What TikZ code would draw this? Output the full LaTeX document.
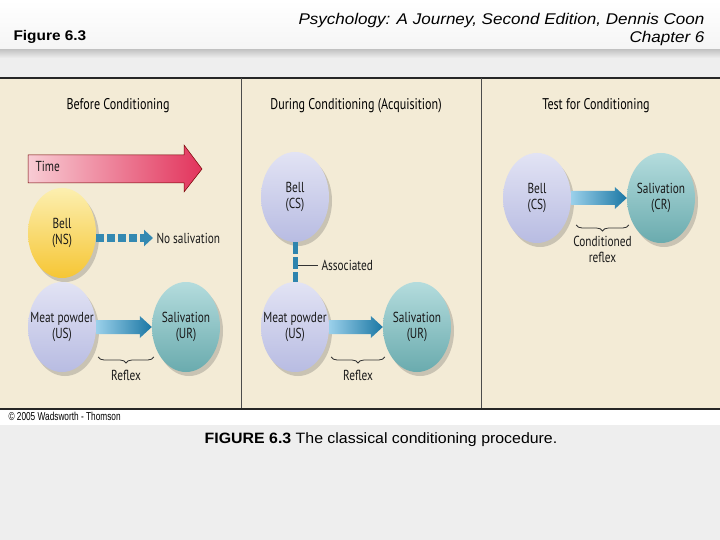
\documentclass[tikz,border=0pt]{standalone}
\usepackage{fontspec}
\setmainfont{Liberation Sans}
\newfontfamily\figfont[FakeStretch=0.78]{PT Sans}
\newfontfamily\tinyfont[FakeStretch=0.72]{Liberation Sans}
\newfontfamily\headfont[FakeStretch=1.1]{Liberation Sans}
\newfontfamily\capfont[FakeStretch=1.06]{Liberation Sans}
\usetikzlibrary{positioning,shapes.geometric,shadows,arrows.meta,decorations.pathreplacing,calc}

\definecolor{panelbg}{HTML}{F3EBD6}
\definecolor{pagebg}{HTML}{EEEEEE}
\definecolor{yellowtop}{HTML}{FCEFB0}
\definecolor{yellowbot}{HTML}{F6C634}
\definecolor{lavtop}{HTML}{E2E3F4}
\definecolor{lavbot}{HTML}{B8BCE2}
\definecolor{tealtop}{HTML}{B4DCDD}
\definecolor{tealbot}{HTML}{6AABAE}
\definecolor{arrowlight}{HTML}{9AD0EA}
\definecolor{arrowdark}{HTML}{1B77A4}
\definecolor{timelight}{HTML}{F8CCD4}
\definecolor{timedark}{HTML}{E2345C}

\tikzset{
  ball/.style={ellipse, minimum width=68pt, minimum height=90pt, inner sep=0pt,
    drop shadow={shadow xshift=3pt, shadow yshift=-4pt, opacity=0.25, fill=black!70}},
  yellowball/.style={ball, top color=yellowtop, bottom color=yellowbot},
  lavball/.style={ball, top color=lavtop, bottom color=lavbot},
  tealball/.style={ball, top color=tealtop, bottom color=tealbot},
  lbl/.style={font=\figfont\fontsize{14.5}{16}\selectfont, align=center, text=black!90},
  paneltitle/.style={font=\figfont\fontsize{15.5}{17}\selectfont, text=black},
  reflexbrace/.style={decorate, decoration={brace, mirror, amplitude=6pt}, black!80, line width=0.8pt}
}

% thick shaded arrow between two balls, at the height of the first one
\newcommand{\flowarrow}[2]{%
  \shade[left color=arrowlight, right color=arrowdark]
    let \p1=(#1.east), \p2=(#2.west) in
    (\x1,\y1+7pt) -- (\x2-12pt,\y1+7pt) -- (\x2-12pt,\y1+11pt) -- (\x2,\y1)
    -- (\x2-12pt,\y1-11pt) -- (\x2-12pt,\y1-7pt) -- (\x1,\y1-7pt) -- cycle;}

\begin{document}
\begin{tikzpicture}[x=1pt, y=-1pt]
  \useasboundingbox (0,0) rectangle (720,540);
  \fill[pagebg] (0,0) rectangle (720,540);
  \shade[top color=white, bottom color=gray!8] (0,0) rectangle (720,50);
  \shade[top color=gray!45, bottom color=pagebg] (0,50) rectangle (720,58);

  % header
  \node[anchor=west, font=\headfont\bfseries\fontsize{14}{16}\selectfont] (figno) at (10,37) {Figure 6.3};
  \node[anchor=east, font=\headfont\itshape\fontsize{15.5}{17}\selectfont] (book) at (708,20)
    {Psychology: A Journey, Second Edition, Dennis Coon};
  \node[anchor=east, font=\headfont\itshape\fontsize{15.5}{17}\selectfont] (chap) at (708,38) {Chapter 6};

  % panels
  \fill[panelbg] (0,78) rectangle (720,408);
  \draw[black!85, line width=1.2pt] (0,78) -- (720,78);
  \draw[black!85, line width=2pt] (0,408.5) -- (720,408.5);
  \draw[black!70, line width=0.8pt] (241,78) -- (241,408);
  \draw[black!70, line width=0.8pt] (481,78) -- (481,408);
  \fill[white] (0,410) rectangle (720,425);

  \node[paneltitle] (titleA) at (118,106) {Before Conditioning};
  \node[paneltitle] (titleB) at (356,106) {During Conditioning (Acquisition)};
  \node[paneltitle] (titleC) at (596,106) {Test for Conditioning};

  % before conditioning
  \shade[left color=timelight, right color=timedark, draw=red!45!black, line width=0.5pt]
    (28,155) -- (184,155) -- (184,145) -- (202,169) -- (184,192) -- (184,183) -- (28,183) -- cycle;
  \node[lbl, anchor=west] (time) at (32,166) {Time};

  \node[yellowball, label={[lbl]center:Bell\\(NS)}] (bellNS) at (62,233) {};
  \node[lavball, label={[lbl]center:Meat powder\\(US)}] (meatA) at (62,327) {};
  \node[tealball, label={[lbl]center:Salivation\\(UR)}] (salivA) at (186,327) {};
  \node[lbl, anchor=west] (nosaliv) at (153,238) {No salivation};

  \draw[arrowdark!80!arrowlight, line width=8pt, dash pattern=on 8pt off 3pt,
    -{Triangle[length=9pt, width=16pt]}] (bellNS.east |- nosaliv) -- (nosaliv.west);
  \flowarrow{meatA}{salivA}
  \draw[reflexbrace] ($(meatA.east)+(2,30)$) -- ($(salivA.west)+(2,30)$)
    node[midway, below=9pt, lbl] (reflexA) {Reflex};

  % during conditioning
  \node[lavball, label={[lbl]center:Bell\\(CS)}] (bellCS) at (295,197) {};
  \node[lavball, label={[lbl]center:Meat powder\\(US)}] (meatB) at (295,327) {};
  \node[tealball, label={[lbl]center:Salivation\\(UR)}] (salivB) at (417,327) {};
  \draw[arrowdark!85!arrowlight, line width=5pt, dash pattern=on 12pt off 3pt]
    (bellCS.south) -- (meatB.north);
  \node[lbl, anchor=west] (assoc) at (318,265) {Associated};
  \draw[black!80, line width=0.8pt] (bellCS.south |- assoc) ++(3,0) -- (assoc.west);
  \flowarrow{meatB}{salivB}
  \draw[reflexbrace] ($(meatB.east)+(2,30)$) -- ($(salivB.west)+(2,30)$)
    node[midway, below=9pt, lbl] (reflexB) {Reflex};

  % test for conditioning
  \node[lavball, label={[lbl]center:Bell\\(CS)}] (bellT) at (537,198) {};
  \node[tealball, label={[lbl]center:Salivation\\(CR)}] (salivT) at (661,198) {};
  \flowarrow{bellT}{salivT}
  \draw[reflexbrace] ($(bellT.east)+(5,27)$) -- ($(salivT.west)+(2,27)$)
    node[midway, below=7pt, lbl] (condrefl) {Conditioned\\reflex};

  % credits and caption
  \node[anchor=west, font=\tinyfont\fontsize{11.5}{13}\selectfont] (credit) at (5,416) {\textcopyright\ 2005 Wadsworth - Thomson};
  \node[font=\capfont\fontsize{15}{17}\selectfont] (caption) at (381,440)
    {\textbf{FIGURE 6.3} The classical conditioning procedure.};
\end{tikzpicture}
\end{document}
